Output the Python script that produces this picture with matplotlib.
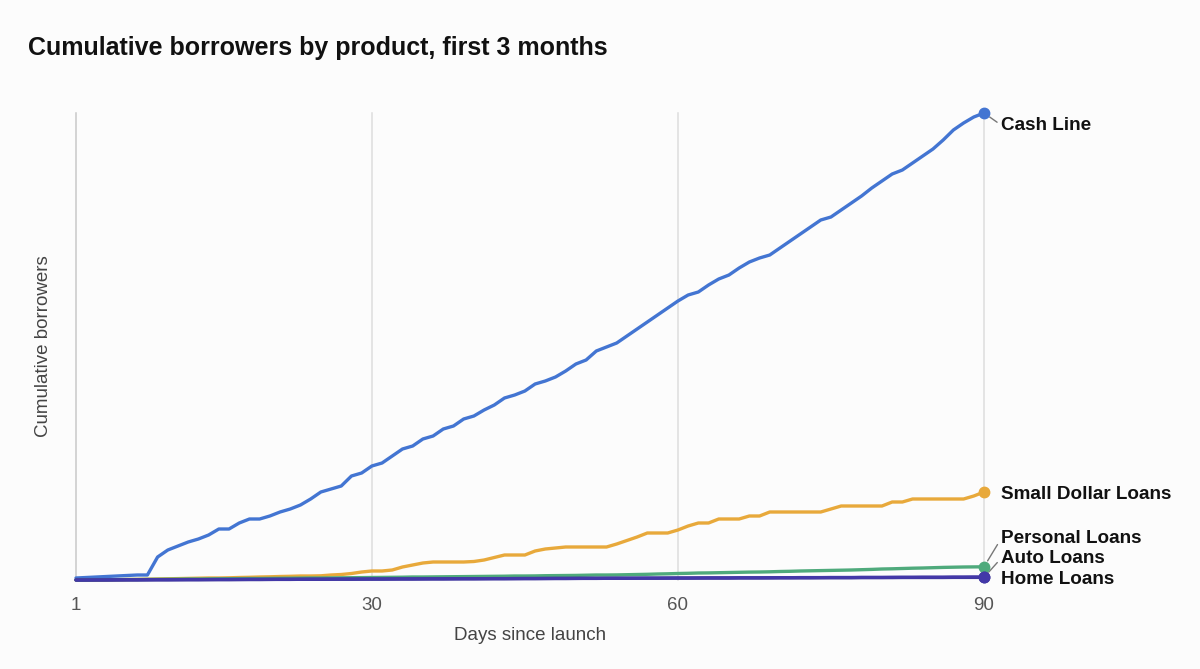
import matplotlib
matplotlib.use("Agg")
import matplotlib.pyplot as plt
import numpy as np

plt.rcParams['font.family'] = ['Liberation Sans', 'DejaVu Sans']

days = list(range(1, 91))

cash_line = [2, 2.5, 3, 3.5, 4, 4.5, 5, 5, 23, 30,
             34, 38, 41, 45, 51, 51, 57, 61, 61, 64,
             68, 71, 75, 81, 88, 91, 94, 104, 107, 114,
             117, 124, 131, 134, 141, 144, 151, 154, 161, 164,
             170, 175, 182, 185, 189, 196, 199, 203, 209, 216,
             220, 229, 233, 237, 244, 251, 258, 265, 272, 279,
             285, 288, 295, 301, 305, 312, 318, 322, 325, 332,
             339, 346, 353, 360, 363, 370, 377, 384, 392, 399,
             406, 410, 417, 424, 431, 440, 450, 457, 463, 467]

small_dollar = [0, 0, 0, 0.2, 0.3, 0.5, 0.6, 0.8, 1, 1.2,
                1.4, 1.6, 1.8, 2, 2, 2.2, 2.5, 2.7, 3, 3.2,
                3.5, 3.7, 4, 4, 4.2, 5, 5.5, 6.5, 8, 9,
                9, 10, 13, 15, 17, 18, 18, 18, 18, 18.5,
                20, 22.5, 25, 25, 25, 29, 31, 32, 33, 33,
                33, 33, 33, 36, 39.5, 43, 47, 47, 47, 50,
                54, 57, 57, 61, 61, 61, 64, 64, 68, 68,
                68, 68, 68, 68, 71, 74, 74, 74, 74, 74,
                78, 78, 81, 81, 81, 81, 81, 81, 84, 88]

personal = [0, 0, 0.2, 0.3, 0.4, 0.5, 0.5, 0.6, 0.7, 0.8,
            0.9, 1, 1, 1.1, 1.2, 1.3, 1.4, 1.5, 1.5, 1.6,
            1.7, 1.8, 1.9, 2, 2, 2.1, 2.2, 2.3, 2.4, 2.5,
            2.6, 2.7, 2.8, 3, 3, 3.1, 3.2, 3.3, 3.4, 3.5,
            3.6, 3.7, 3.8, 4, 4, 4.1, 4.3, 4.4, 4.5, 4.6,
            4.8, 5, 5, 5.1, 5.3, 5.5, 5.7, 6, 6.2, 6.5,
            6.7, 7, 7.1, 7.3, 7.5, 7.7, 7.9, 8, 8.2, 8.5,
            8.7, 9, 9.2, 9.4, 9.6, 9.8, 10, 10.3, 10.6, 11,
            11.2, 11.5, 11.8, 12, 12.3, 12.6, 12.8, 13, 13.1, 13.2]

auto = [0, 0, 0, 0, 0.1, 0.1, 0.1, 0.2, 0.2, 0.2,
        0.3, 0.3, 0.3, 0.4, 0.4, 0.4, 0.5, 0.5, 0.5, 0.6,
        0.6, 0.6, 0.7, 0.7, 0.7, 0.8, 0.8, 0.8, 0.9, 0.9,
        0.9, 1, 1, 1, 1.1, 1.1, 1.1, 1.2, 1.2, 1.2,
        1.3, 1.3, 1.3, 1.4, 1.4, 1.4, 1.5, 1.5, 1.5, 1.6,
        1.6, 1.6, 1.7, 1.7, 1.7, 1.8, 1.8, 1.8, 1.9, 1.9,
        1.9, 2, 2, 2, 2, 2.1, 2.1, 2.1, 2.1, 2.2,
        2.2, 2.2, 2.2, 2.3, 2.3, 2.3, 2.3, 2.4, 2.4, 2.4,
        2.4, 2.5, 2.5, 2.5, 2.5, 2.5, 2.6, 2.6, 2.6, 2.6]

home = [0, 0, 0.1, 0.1, 0.1, 0.2, 0.2, 0.2, 0.3, 0.3,
        0.3, 0.4, 0.4, 0.4, 0.5, 0.5, 0.5, 0.6, 0.6, 0.6,
        0.7, 0.7, 0.7, 0.8, 0.8, 0.8, 0.9, 0.9, 0.9, 1,
        1, 1, 1.1, 1.1, 1.1, 1.2, 1.2, 1.2, 1.3, 1.3,
        1.3, 1.4, 1.4, 1.4, 1.5, 1.5, 1.5, 1.6, 1.6, 1.6,
        1.7, 1.7, 1.7, 1.8, 1.8, 1.8, 1.9, 1.9, 1.9, 2,
        2, 2, 2.1, 2.1, 2.1, 2.2, 2.2, 2.2, 2.3, 2.3,
        2.3, 2.4, 2.4, 2.4, 2.5, 2.5, 2.5, 2.6, 2.6, 2.6,
        2.7, 2.7, 2.7, 2.8, 2.8, 2.8, 2.9, 2.9, 3, 3]

series_names = ["Cash Line", "Small Dollar Loans", "Personal Loans", "Auto Loans", "Home Loans"]
series_values = [cash_line, small_dollar, personal, auto, home]
colors = ["#4375D2", "#E8A93B", "#4FAA7C", "#3A3590", "#4338A8"]
xticks = [1, 30, 60, 90]

W, H = 1200, 669
fig = plt.figure(figsize=(W / 100, H / 100), dpi=100)
bg = "#FCFCFC"
fig.patch.set_facecolor(bg)

left_px, right_px, top_px, bot_px = 76, 984, 113, 580
ax = fig.add_axes([left_px / W, 1 - bot_px / H, (right_px - left_px) / W, (bot_px - top_px) / H])
ax.set_facecolor(bg)

ymax = max(cash_line)
ax.set_xlim(1, 90)
ax.set_ylim(0, ymax)

for t in xticks:
    ax.axvline(t, color='#c9c9c9' if t == 1 else '#dddddd', lw=1.1, zorder=0, clip_on=False)

order = [2, 3, 4, 1, 0]
for i in order:
    ax.plot(days, series_values[i], color=colors[i], lw=2.4, clip_on=False,
            solid_capstyle='round', solid_joinstyle='round', zorder=3 + i * 0.1)
for i in order:
    ax.plot(days[-1], series_values[i][-1], 'o', color=colors[i], ms=7.5,
            clip_on=False, zorder=5)

for s in ['top', 'right', 'bottom', 'left']:
    ax.spines[s].set_visible(False)

ax.set_xticks(xticks)
ax.set_xticklabels([str(t) for t in xticks])
ax.set_yticks([])
ax.tick_params(axis='x', length=0, pad=12.5, labelsize=13.5, labelcolor='#555555')

ax.set_xlabel("Days since launch", fontsize=13.5, color='#444444')
ax.xaxis.set_label_coords(0.5, -0.1)
ax.set_ylabel("Cumulative borrowers", fontsize=13.5, color='#444444')
ax.yaxis.set_label_coords(-0.026, 0.5)

fig.text(28 / W, 1 - 48 / H, "Cumulative borrowers by product, first 3 months",
         fontsize=18, fontweight='bold', color='#111111', va='center', ha='left')

# direct labels (offsets in points; 1 px = 0.72 pt)
px = 0.72
label_offsets = {
    "Cash Line": (17 * px, -12 * px),
    "Small Dollar Loans": (17 * px, -2.5 * px),
    "Personal Loans": (17 * px, 28 * px),
    "Auto Loans": (17 * px, 19 * px),
    "Home Loans": (17 * px, -2 * px),
}
connect = {"Cash Line", "Personal Loans", "Auto Loans"}
for name, vals in zip(series_names, series_values):
    dx, dy = label_offsets[name]
    kw = {}
    if name in connect:
        kw['arrowprops'] = dict(arrowstyle='-', color='#777777', lw=1,
                                relpos=(0, 0.5), shrinkA=1, shrinkB=5)
    ax.annotate(name, xy=(days[-1], vals[-1]), xytext=(dx, dy),
                textcoords='offset points', ha='left', va='center',
                fontsize=13.6, fontweight='bold', color='#111111',
                annotation_clip=False, **kw)

fig.savefig("out.png", dpi=100, facecolor=bg)
